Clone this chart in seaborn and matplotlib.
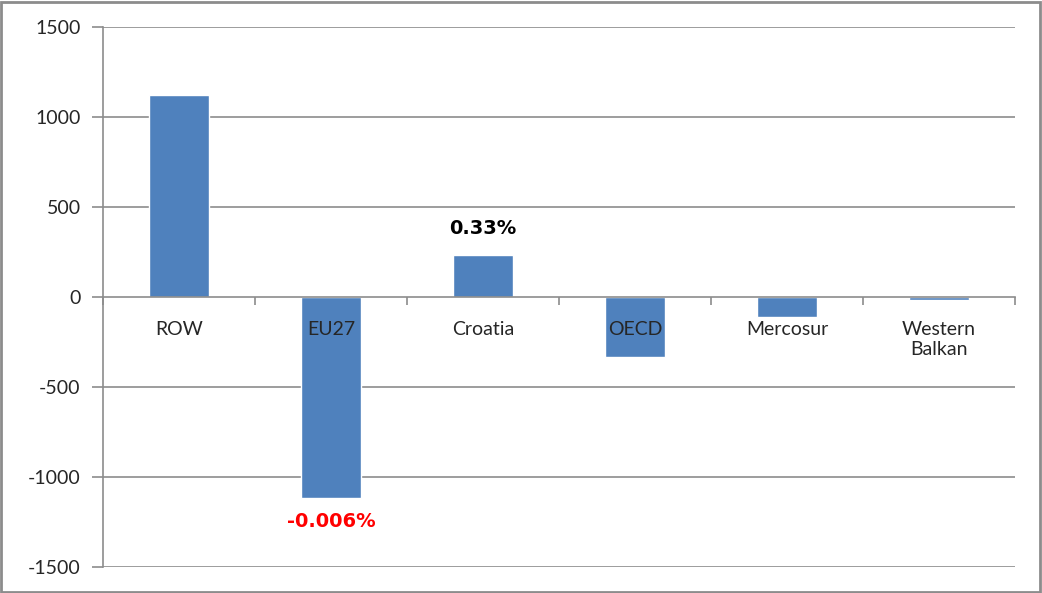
import seaborn as sns
import matplotlib
import matplotlib.pyplot as plt
import numpy as np
import pandas as pd
from matplotlib.patches import Rectangle
from matplotlib.ticker import FixedLocator

sns.set_style("white")
plt.rcParams['font.family'] = ['Lato', 'DejaVu Sans']
plt.rcParams['axes.unicode_minus'] = False

regions = ["ROW", "EU27", "Croatia", "OECD", "Mercosur", "Western\nBalkan"]
change = [1122, -1117, 233, -333, -111, -15]
pct_labels = {"Croatia": "0.33%", "EU27": "-0.006%"}
pct_colors = {"Croatia": "black", "EU27": "red"}

df = pd.DataFrame({"region": regions, "change": change})

fig = plt.figure(figsize=(10.42, 5.93), dpi=100)
ax = fig.add_axes([0.0988, 0.0438, 0.8752, 0.9107])
ax.set_axisbelow(False)

sns.barplot(data=df, x="region", y="change", color="#4F81BD", width=0.4,
            saturation=1, ax=ax, zorder=2)

ax.set_ylim(-1500, 1500)
ax.set_xlim(-0.5, len(regions) - 0.5)
yt = np.arange(-1500, 1501, 500)
ax.set_yticks(yt)
for y in yt:
    if y != 0:
        ax.axhline(y, color="#8c8c8c", linewidth=1.2, zorder=0.5)
ax.set_xlabel("")
ax.set_ylabel("")

# category axis sits on zero
for s in ["top", "right"]:
    ax.spines[s].set_visible(False)
ax.spines["bottom"].set_position(("data", 0))
ax.spines["bottom"].set_color("#8c8c8c")
ax.spines["bottom"].set_linewidth(1.2)
ax.spines["left"].set_color("#8c8c8c")
ax.spines["left"].set_linewidth(1.2)

ax.tick_params(axis="x", which="major", length=0, pad=17, labelsize=14)
ax.xaxis.set_minor_locator(FixedLocator(np.arange(-0.5, len(regions), 1.0)))
ax.tick_params(axis="x", which="minor", length=6, width=1.2, color="#8c8c8c",
               direction="out", bottom=True)
ax.tick_params(axis="y", length=8, width=1.2, color="#8c8c8c", direction="out",
               left=True, labelsize=14, pad=8)
for lab in ax.get_xticklabels():
    lab.set_linespacing(1.25)
    lab.set_verticalalignment("top")

for i, (r, v) in enumerate(zip(regions, change)):
    if r in pct_labels:
        off = 19 if v > 0 else -17
        ax.annotate(pct_labels[r], (i, v), xytext=(0, off), textcoords="offset points",
                    ha="center", va="center", fontsize=14, fontweight="bold",
                    color=pct_colors[r], family="DejaVu Sans")

fig.patches.append(Rectangle((0.001, 0.002), 0.997, 0.995, transform=fig.transFigure,
                             fill=False, edgecolor="#8c8c8c", linewidth=2))

fig.savefig("out.png", dpi=100)
